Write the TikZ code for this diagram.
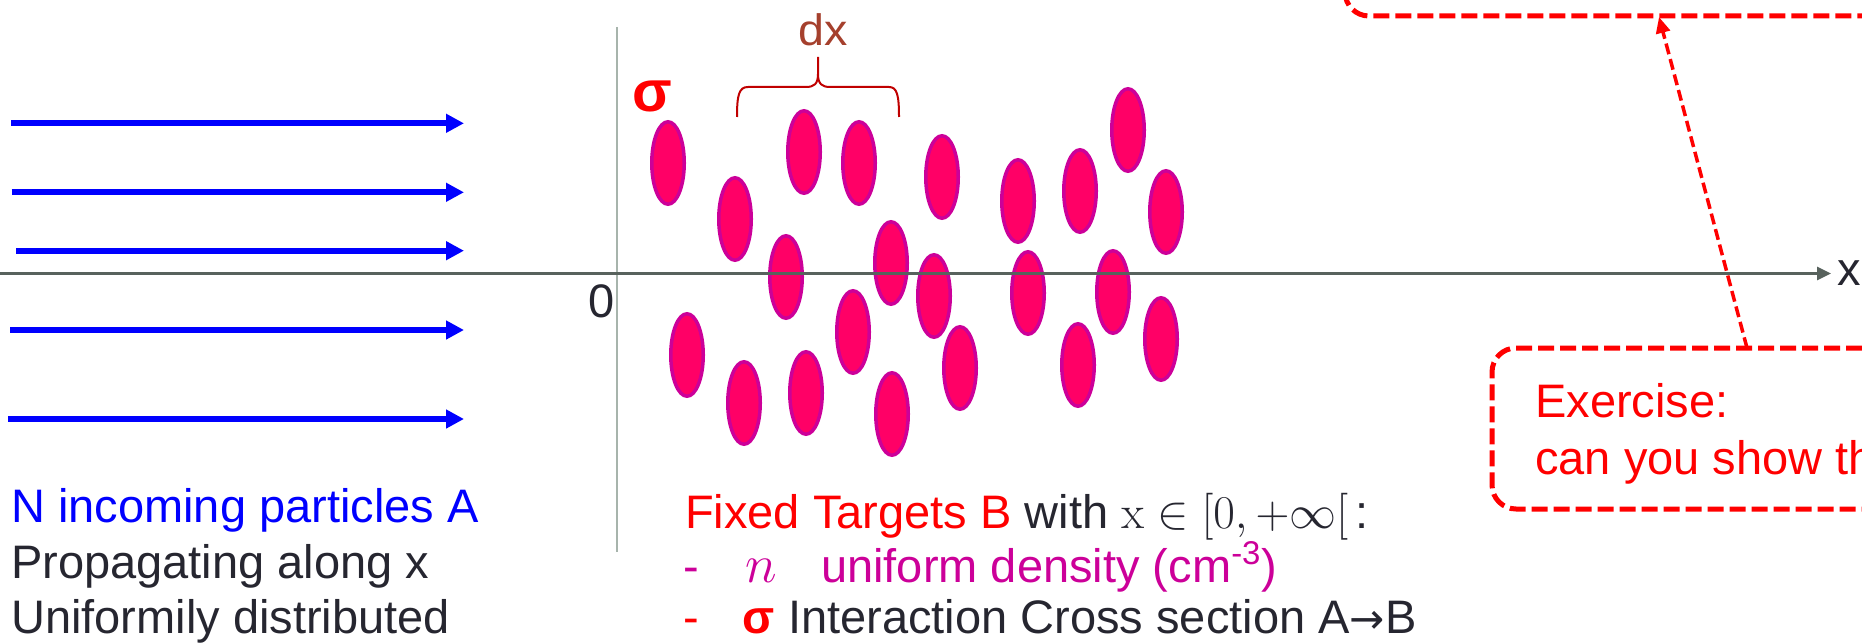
\RequirePackage{fix-cm}
\documentclass[tikz,border=0pt]{standalone}
\usepackage[no-math]{fontspec}
\setmainfont{Liberation Sans}
\newfontfamily\symfont{DejaVu Sans}
\usetikzlibrary{arrows.meta,shapes.geometric}
\definecolor{tgtfill}{RGB}{255,0,102}
\definecolor{tgtdraw}{RGB}{204,0,153}
\definecolor{beamblue}{RGB}{0,0,255}
\definecolor{axisgray}{RGB}{88,98,93}
\definecolor{vgray}{RGB}{167,180,172}
\definecolor{txtdark}{RGB}{38,38,48}
\definecolor{magtxt}{RGB}{204,0,153}
\definecolor{dxbrown}{RGB}{165,64,45}
\definecolor{bracered}{RGB}{192,0,0}
\definecolor{exred}{RGB}{255,0,0}
\begin{document}
\begin{tikzpicture}[x=1pt,y=-1pt,
  target/.style={ellipse, draw=tgtdraw, fill=tgtfill, line width=3.5pt, inner sep=0pt,
                 minimum width=32.5pt, minimum height=82.5pt},
  beam/.style={beamblue, line width=6pt, -{Triangle[length=18pt,width=18pt]}},
  txt/.style={inner sep=0pt, anchor=base west, font=\fontsize{47}{56}\selectfont},
  exbox/.style={exred, line width=5pt, dash pattern=on 16pt off 6pt, rounded corners=24pt},
  exarrow/.style={exred, line width=3.5pt, dash pattern=on 11pt off 5pt, -{Triangle[length=16pt,width=14pt]}}
]
\useasboundingbox (0,0) rectangle (1862,644);

% vertical axis
\coordinate (vtop) at (617,27);
\coordinate (vbot) at (617,552);
\draw[vgray, line width=2.5pt] (vtop) -- (vbot);

% incoming beams
\foreach \i/\xs/\y in {1/11/123.3, 2/11.7/192.3, 3/16.3/250.7, 4/10/330, 5/8.3/419}{
  \coordinate (bs\i) at (\xs,\y);
  \coordinate (be\i) at (464,\y);
  \draw[beam] (bs\i) -- (be\i);
}

% targets
\foreach \n/\x/\y in {t1/668/163, t2/735/219, t3/804/152, t4/859/163, t5/942/177,
  t6/1018/201, t7/1080/191, t8/1128/130, t9/1166/212, t10/786/277, t11/891/263,
  t12/934/296, t13/1028/293, t14/1113/292, t15/687/355, t16/744/403, t17/806/393,
  t18/853/332, t19/892/414, t20/960/368, t21/1078/365, t22/1161/339}{
  \node[target] (\n) at (\x,\y) {};
}

% horizontal axis
\coordinate (ax0) at (0,273.5);
\coordinate (ax1) at (1831,273.5);
\draw[axisgray, line width=3pt, -{Triangle[length=14pt,width=13pt]}] (ax0) -- (ax1);
\node[txt, text=txtdark] (xlab) at (1837,285) {x};
\node[txt, text=txtdark] (zero) at (588,317) {0};

% sigma label
\node[txt, text=exred, font=\fontsize{58}{60}\selectfont\bfseries] (sig) at (632,112) {σ};

% dx brace
\draw[bracered, line width=2pt] (737,117) .. controls (737,95) and (739,87) .. (748,87)
  -- (806,87) .. controls (814,87) and (818,84) .. (818,74) -- (818,57)
  -- (818,74) .. controls (818,84) and (822,87) .. (830,87)
  -- (889,87) .. controls (897,87) and (899,95) .. (899,117);
\coordinate (btip) at (818,57);
\node[txt, text=dxbrown, font=\fontsize{44}{48}\selectfont, xscale=1.06] (dx) at (798,45.5) {dx};

% left text
\node[txt, text=beamblue] (l1) at (11,522) {N incoming particles A};
\node[txt, text=txtdark] (l2) at (11,578) {Propagating along x};
\node[txt, text=txtdark] (l3) at (11,633) {Uniformily distributed};

% targets text
\node[txt, text=txtdark] (r1) at (685,528) {\textcolor{exred}{Fixed Targets B} with $\mathrm{x}\in[0,+\infty[$\,:};
\node[txt, text=magtxt] (r2a) at (683,582) {-};
\node[txt, text=magtxt, font=\fontsize{54}{56}\selectfont] (r2b) at (745,582) {$n$};
\node[txt, text=magtxt] (r2c) at (821,582) {uniform density (cm\textsuperscript{-3})};
\node[txt, text=exred] (r3a) at (683,633) {-};
\node[txt, text=exred, font=\fontsize{47}{56}\selectfont\bfseries] (r3b) at (742,633) {σ};
\node[txt, text=txtdark] (r3c) at (788,633) {Interaction Cross section A{\symfont\fontsize{42}{56}\selectfont →}B};

% exercise boxes
\draw[exbox] (1345,-120) -- (1345,16) -- (1950,16);
\draw[exbox] (1950,348) -- (1492,348) -- (1492,509) -- (1950,509);
\node[txt, text=exred] (ex1) at (1535,417) {Exercise:};
\node[txt, text=exred] (ex2) at (1535,474) {can you show th};
\coordinate (afrom) at (1747,348);
\coordinate (ato) at (1659,17);
\draw[exarrow] (afrom) -- (ato);
\end{tikzpicture}
\end{document}
